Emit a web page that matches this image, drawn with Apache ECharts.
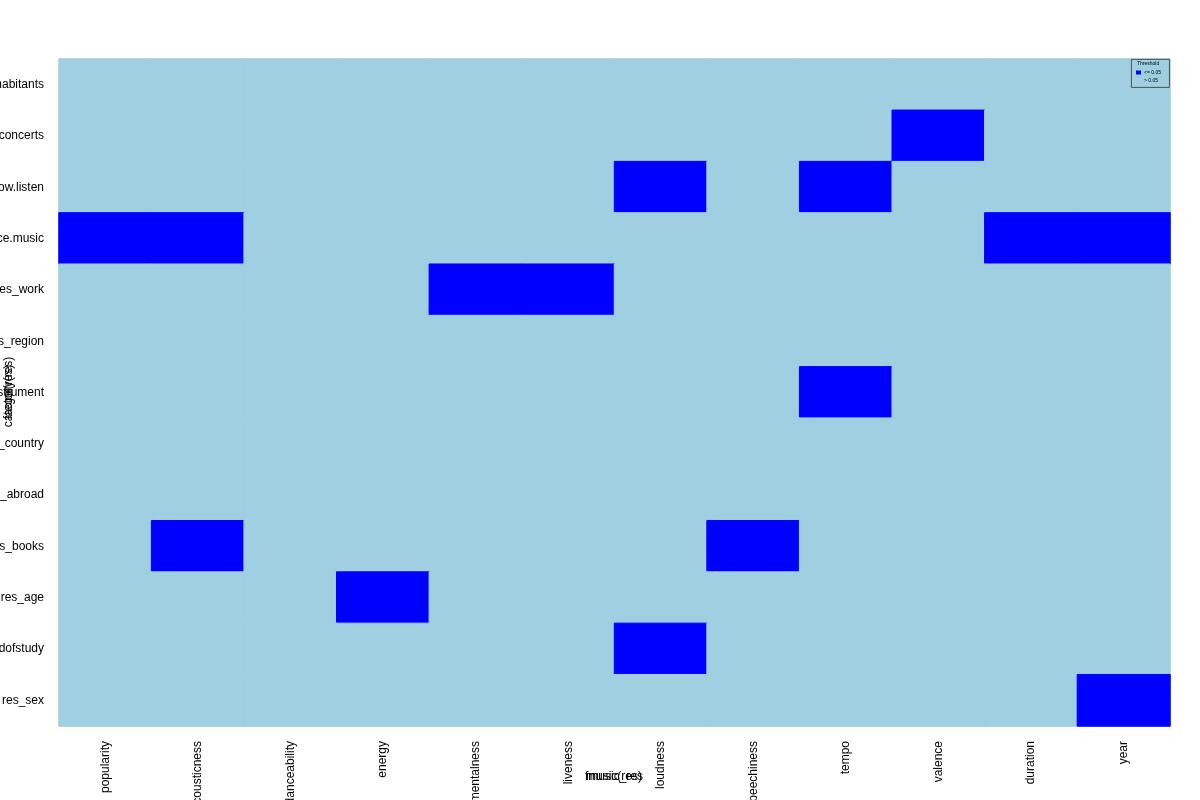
<!DOCTYPE html>
<html>
<head>
<meta charset="utf-8">
<script src="https://cdn.jsdelivr.net/npm/echarts@6/dist/echarts.min.js"></script>
<style>html,body{margin:0;padding:0;background:#fff}#c{width:1200px;height:800px}</style>
</head>
<body>
<div id="c"></div>
<script>
const xCategories = ['popularity','acousticness','danceability','energy','instrumentalness','liveness','loudness','speechiness','tempo','valence','duration','year'];
const yCategories = ['res_inhabitants','res_concerts','res_how.listen','res_importance.music','res_hobbies_work','res_region','res_instrument','res_country','res_abroad','res_books','res_age','res_fieldofstudy','res_sex'];
const thresholdLabels = ['<= 0.05', '> 0.05'];
const thresholdColors = ['#0000ff', '#9fcfe0'];
// 1 = p <= 0.05, 0 = p > 0.05 ; rows top to bottom
const res_inhabitants      = [0,0,0,0,0,0,0,0,0,0,0,0];
const res_concerts         = [0,0,0,0,0,0,0,0,0,1,0,0];
const res_how_listen       = [0,0,0,0,0,0,1,0,1,0,0,0];
const res_importance_music = [1,1,0,0,0,0,0,0,0,0,1,1];
const res_hobbies_work     = [0,0,0,0,1,1,0,0,0,0,0,0];
const res_region           = [0,0,0,0,0,0,0,0,0,0,0,0];
const res_instrument       = [0,0,0,0,0,0,0,0,1,0,0,0];
const res_country          = [0,0,0,0,0,0,0,0,0,0,0,0];
const res_abroad           = [0,0,0,0,0,0,0,0,0,0,0,0];
const res_books            = [0,1,0,0,0,0,0,1,0,0,0,0];
const res_age              = [0,0,0,1,0,0,0,0,0,0,0,0];
const res_fieldofstudy     = [0,0,0,0,0,0,1,0,0,0,0,0];
const res_sex              = [0,0,0,0,0,0,0,0,0,0,0,1];
const rows = [res_inhabitants,res_concerts,res_how_listen,res_importance_music,res_hobbies_work,res_region,res_instrument,res_country,res_abroad,res_books,res_age,res_fieldofstudy,res_sex];

const data = [];
rows.forEach((r, yi) => r.forEach((v, xi) => {
  const c = v === 1 ? thresholdColors[0] : thresholdColors[1];
  data.push({value: [xi, yi, v], itemStyle: {color: c, borderColor: c, borderWidth: 1}});
}));

const font = 'Liberation Sans, Arial, sans-serif';
const chart = echarts.init(document.getElementById('c'), null, {renderer: 'canvas'});
chart.setOption({
  animation: false,
  backgroundColor: '#fff',
  grid: {left: 59, right: 30, top: 59, bottom: 74, containLabel: false, outerBoundsMode: 'none'},
  xAxis: {
    type: 'category', data: xCategories,
    axisLine: {show: false}, axisTick: {show: false}, splitLine: {show: false},
    axisLabel: {rotate: 90, margin: 15, color: '#000', fontSize: 12, fontFamily: font, interval: 0, hideOverlap: false}
  },
  yAxis: {
    type: 'category', data: yCategories, inverse: true,
    axisLine: {show: false}, axisTick: {show: false}, splitLine: {show: false},
    axisLabel: {margin: 15, color: '#000', fontSize: 12, fontFamily: font, interval: 0, hideOverlap: false}
  },
  visualMap: {
    type: 'piecewise', dimension: 2, seriesIndex: 1,
    pieces: [{value: 1, label: thresholdLabels[0], color: thresholdColors[0]}, {value: 0, label: thresholdLabels[1], color: thresholdColors[1]}],
    orient: 'vertical', left: 1136, top: 70, align: 'left',
    itemWidth: 5, itemHeight: 4, itemGap: 3, itemSymbol: 'rect',
    textStyle: {fontSize: 5, color: '#000', fontFamily: font},
    textGap: 3,
    padding: 0
  },
  graphic: [
    {type: 'rect', left: 1131, top: 59, shape: {width: 38, height: 28}, style: {fill: 'rgba(255,255,255,0)', stroke: '#333', lineWidth: 0.8}, z: 10},
    {type: 'text', left: 1137, top: 61, style: {text: 'Threshold', fontSize: 5, fill: '#000', fontFamily: font}, z: 11},
    {type: 'text', x: 614, y: 777, style: {text: 'music(res)', fontSize: 12, fill: '#000', align: 'center', verticalAlign: 'middle', fontFamily: font}},
    {type: 'text', x: 614, y: 777, style: {text: 'fmusic_res', fontSize: 12, fill: '#000', align: 'center', verticalAlign: 'middle', fontFamily: font}},
    {type: 'text', x: 9, y: 392, rotation: Math.PI/2, style: {text: 'category(res)', fontSize: 12, fill: '#000', align: 'center', verticalAlign: 'middle', fontFamily: font}},
    {type: 'text', x: 9, y: 392, rotation: Math.PI/2, style: {text: 'factor(res)', fontSize: 12, fill: '#000', align: 'center', verticalAlign: 'middle', fontFamily: font}}
  ],
  series: [
    {type: 'heatmap', data: data, emphasis: {disabled: true}},
    {type: 'heatmap', data: [], emphasis: {disabled: true}}
  ]
});
</script>
</body>
</html>
